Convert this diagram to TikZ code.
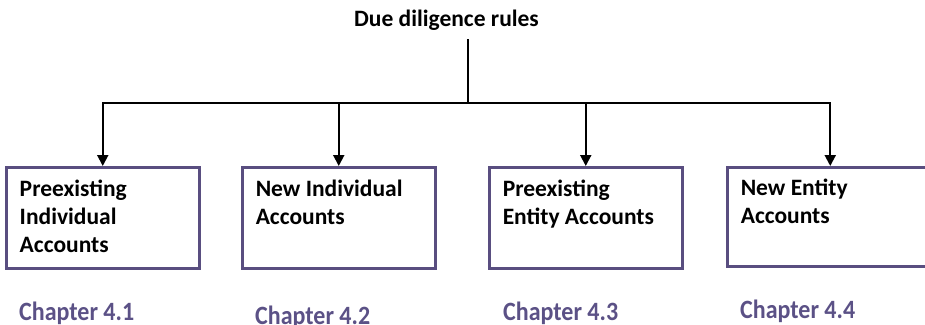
\documentclass[tikz,border=0pt]{standalone}
\usepackage{fontspec}
\setmainfont{Carlito}
\usepackage{graphicx}
\usetikzlibrary{shapes, arrows.meta, positioning}

\definecolor{frame}{HTML}{594E80}
\definecolor{chap}{HTML}{5B5186}

\newcommand{\acct}[2][166pt]{\parbox[t][83pt][t]{#1}{\raggedright\strut #2}}

\begin{document}
\begin{tikzpicture}[x=1pt, y=-1pt, >={Triangle[width=11pt,length=11pt]}, font=\fontsize{23.5}{28.3}\selectfont\bfseries]

\tikzstyle{block} = [draw=frame, shape=rectangle, line width=2.5pt, inner sep=0pt, minimum width=193pt, minimum height=101pt, anchor=north west]
\tikzstyle{chapter} = [text=chap, anchor=base west, inner sep=0pt, font=\fontsize{24}{28}\selectfont\bfseries]
\tikzstyle{wire} = [line width=2pt, line cap=rect]

\useasboundingbox (0,0) rectangle (925,324);
\clip (0,0) rectangle (925,324);

%Creating Blocks and Labels
\node (title) [anchor=base, inner sep=8.5pt] at (446.5,27) {Due diligence rules};
\node [block] (pia) at (5,166) {\acct{Preexisting\\Individual\\Accounts}};
\node [block] (nia) at (241,166) {\acct{New Individual\\Accounts}};
\node [block] (pea) at (488,166) {\acct{Preexisting\\Entity Accounts}};
\node [block, minimum width=206pt, minimum height=99pt] (nea) at (726,166) {\acct[179pt]{New Entity\\Accounts}};

\node [chapter] (ch1) at (19,320) {\scalebox{1}[1.1]{Chapter 4.1}};
\node [chapter] (ch2) at (255,324) {\scalebox{1}[1.1]{Chapter 4.2}};
\node [chapter] (ch3) at (503,320) {\scalebox{1}[1.1]{Chapter 4.3}};
\node [chapter] (ch4) at (740,318) {\scalebox{1}[1.1]{Chapter 4.4}};

%Connecting Blocks
\coordinate (split) at (468,102.5);
\draw[wire] (title.south -| split) -- (split);
\draw[wire] (pia.north |- split) -- (nea.north |- split);
\foreach \b in {pia, nia, pea, nea}
  \draw[wire, ->] (\b.north |- split) -- (\b.north);

\end{tikzpicture}
\end{document}
